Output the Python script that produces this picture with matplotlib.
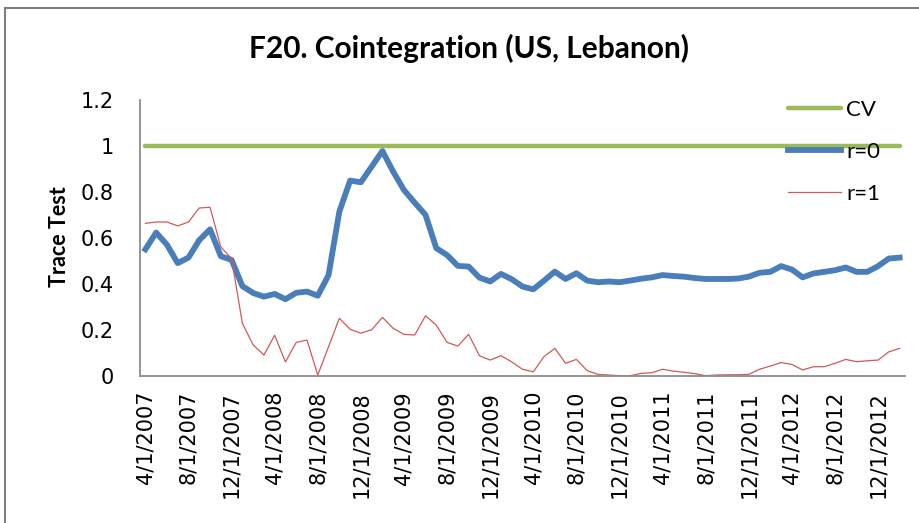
import matplotlib as mpl
mpl.use('Agg')
import matplotlib.pyplot as plt
from matplotlib.lines import Line2D

# monthly trace test statistics, 4/2007 .. 2/2013 (normalised by critical value)
r0 = [0.55, 0.623, 0.57, 0.49, 0.514, 0.59, 0.637, 0.52, 0.504, 0.39,
      0.36, 0.344, 0.356, 0.333, 0.361, 0.366, 0.348, 0.438, 0.714, 0.849,
      0.842, 0.91, 0.978, 0.888, 0.808, 0.753, 0.70, 0.555, 0.525, 0.478,
      0.475, 0.427, 0.41, 0.443, 0.42, 0.388, 0.376, 0.414, 0.453, 0.421,
      0.446, 0.414, 0.407, 0.41, 0.407, 0.414, 0.422, 0.428, 0.438, 0.434,
      0.431, 0.425, 0.421, 0.421, 0.421, 0.423, 0.431, 0.448, 0.452, 0.477,
      0.462, 0.428, 0.445, 0.452, 0.459, 0.471, 0.452, 0.452, 0.477, 0.51,
      0.514]
r1 = [0.663, 0.669, 0.669, 0.652, 0.669, 0.73, 0.733, 0.56, 0.51, 0.228,
      0.134, 0.09, 0.176, 0.06, 0.145, 0.155, 0.003, 0.126, 0.25, 0.202,
      0.185, 0.2, 0.254, 0.206, 0.18, 0.177, 0.261, 0.22, 0.145, 0.129,
      0.18, 0.087, 0.068, 0.087, 0.06, 0.028, 0.017, 0.083, 0.119, 0.054,
      0.071, 0.022, 0.006, 0.003, 0.0, 0.0, 0.01, 0.013, 0.028, 0.02,
      0.015, 0.009, 0.0, 0.003, 0.004, 0.004, 0.006, 0.028, 0.042, 0.057,
      0.049, 0.025, 0.039, 0.039, 0.054, 0.071, 0.061, 0.065, 0.068, 0.104,
      0.119]
cv = [1.0] * len(r0)

tick_labels = ['4/1/2007', '8/1/2007', '12/1/2007', '4/1/2008', '8/1/2008',
               '12/1/2008', '4/1/2009', '8/1/2009', '12/1/2009', '4/1/2010',
               '8/1/2010', '12/1/2010', '4/1/2011', '8/1/2011', '12/1/2011',
               '4/1/2012', '8/1/2012', '12/1/2012']

x = list(range(len(r0)))

fig = plt.figure(figsize=(9.2, 5.23), dpi=100)
ax = fig.add_axes([140/920, 1-375.7/523, 765/920, 275.7/523])

ax.plot(x, cv, color='#9BBB59', lw=3.2, label='CV', solid_capstyle='round')
ax.plot(x, r0, color='#4A7EBB', lw=4.2, label='r=0', solid_joinstyle='round')
ax.plot(x, r1, color='#D05A56', lw=0.9, label='r=1')

ax.set_xlim(-0.5, len(r0) - 0.5)
ax.set_ylim(0, 1.2)
ax.set_yticks([0, 0.2, 0.4, 0.6, 0.8, 1, 1.2])
ax.set_yticklabels(['0', '0.2', '0.4', '0.6', '0.8', '1', '1.2'])
ax.set_xticks(x[::4])
ax.set_xticklabels(tick_labels, rotation=90)
ax.tick_params(axis='both', length=0, labelsize=15)
ax.tick_params(axis='y', pad=19)
ax.tick_params(axis='x', pad=11)
for s in ['top', 'right']:
    ax.spines[s].set_visible(False)
for s in ['left', 'bottom']:
    ax.spines[s].set_color('#8C8C8C')
    ax.spines[s].set_linewidth(1.3)

ax.set_ylabel('Trace Test', fontsize=15.5, fontweight='bold', family='Lato')
ax.yaxis.label.set_va('center')
ax.yaxis.set_label_coords(60/920, 1-237/523, transform=fig.transFigure)

fig.text(469/920, 1-48/523, 'F20. Cointegration (US, Lebanon)', ha='center', va='center',
         fontsize=21.5, fontweight='bold', family='Lato')

leg = ax.legend(loc='upper left', bbox_to_anchor=(788/920, 1-100/523), bbox_transform=fig.transFigure,
                frameon=False, handlelength=2.4, handletextpad=0.22,
                labelspacing=0.98, borderaxespad=0, borderpad=0, prop={'family': 'Lato', 'size': 16})

# chart area border (top and left edges visible)
fig.add_artist(Line2D([5/920, 1], [1-8/523, 1-8/523], color='#7F7F7F', lw=1.5))
fig.add_artist(Line2D([5/920, 5/920], [0, 1-8/523], color='#7F7F7F', lw=1.5))

fig.savefig('out.png', dpi=100)
plt.close(fig)
